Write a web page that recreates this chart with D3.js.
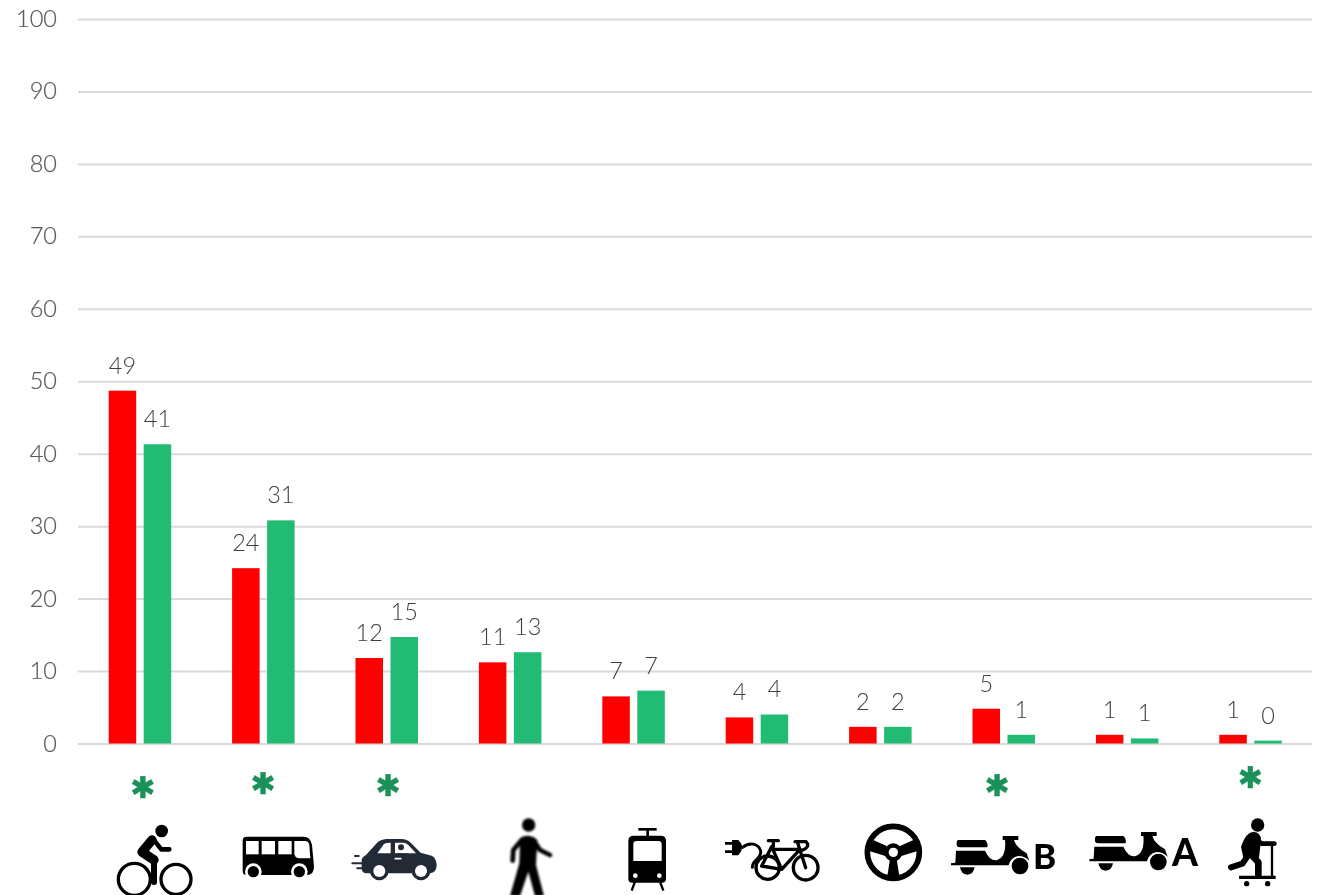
<!DOCTYPE html>
<html><head><meta charset="utf-8">
<script src="https://cdn.jsdelivr.net/npm/d3@7/dist/d3.min.js"></script>
<style>
html,body{margin:0;padding:0;background:#fff;overflow:hidden}
svg{display:block;opacity:0.999}
text{font-family:Lato,"Noto Sans",sans-serif;font-weight:300}
</style></head><body><svg id="c" width="1322" height="895"></svg>
<script>
const categories=["bike","bus","car","walk","tram","ebike","drive","mopedB","mopedA","scooter"];
const seriesA=[48.7,24.2,11.8,11.2,6.5,3.6,2.3,4.8,1.2,1.2];
const seriesB=[41.3,30.8,14.7,12.6,7.3,4.0,2.3,1.2,0.7,0.4];
const labelsA=["49","24","12","11","7","4","2","5","1","1"];
const labelsB=["41","31","15","13","7","4","2","1","1","0"];
const significant=["bike","bus","car","mopedB","scooter"];
const tickValues=[0,10,20,30,40,50,60,70,80,90,100];

const svg=d3.select("#c");
const y=d3.scaleLinear().domain([0,100]).range([743.5,19]);
const x=d3.scaleBand().domain(categories).range([78,1312]);
const sub=d3.scaleBand().domain(["a","b"]).range([-31,31.5]).paddingInner(0.214).paddingOuter(0);

const ax=svg.append("g").attr("transform","translate(78,0)")
 .call(d3.axisLeft(y).tickValues(tickValues).tickSize(-1234).tickPadding(21));
ax.select(".domain").remove();
ax.selectAll(".tick line").attr("stroke","#d9d9d9").attr("stroke-width",2);
ax.selectAll(".tick text").attr("font-size",23.5).attr("fill","#595959").attr("stroke","#595959").attr("stroke-width",0.2).style("font-family","Lato").style("font-weight",300);

const g=svg.append("g");
function bars(vals,key,col,labs){
 const cx=c=>x(c)+x.bandwidth()/2+sub(key);
 g.selectAll(".b"+key).data(categories).join("rect")
  .attr("x",c=>cx(c)).attr("width",sub.bandwidth())
  .attr("y",(c,i)=>y(vals[i])).attr("height",(c,i)=>y(0)-y(vals[i])).attr("fill",col);
 g.selectAll(".l"+key).data(categories).join("text")
  .attr("x",c=>cx(c)+sub.bandwidth()/2).attr("y",(c,i)=>y(vals[i])-25.5)
  .attr("dy","0.36em").attr("text-anchor","middle").attr("font-size",23.5).attr("fill","#404040")
  .text((c,i)=>labs[i]);
}
bars(seriesA,"a","#ff0000",labelsA);
bars(seriesB,"b","#21bb74",labelsB);

const asteriskDx=[3,0,1.5,-6.5,0];
const asteriskCy=[787,783,785,785,777];
svg.append("g").selectAll("text").data(significant).join("text")
 .attr("x",(c,i)=>x(c)+x.bandwidth()/2+asteriskDx[i]).attr("y",(c,i)=>asteriskCy[i]+11)
 .attr("text-anchor","middle").attr("font-size",30)
 .attr("stroke","#1a9158").attr("stroke-width",0.5)
 .style("font-family","DejaVu Sans").style("font-weight",700).attr("fill","#1a9158").text("\u2731");

const defs=svg.append("defs");
defs.append("filter").attr("id","soft").append("feGaussianBlur").attr("stdDeviation",1.4);
defs.append("filter").attr("id","softer").append("feGaussianBlur").attr("stdDeviation",3);
function icon(ox,oy,filter){
 const s=svg.append("g").attr("transform",`translate(${ox},${oy}) scale(${1/3})`);
 if(filter)s.attr("filter",`url(#${filter})`);
 return s;
}
const P=(s,d,o={})=>s.append("path").attr("d",d).attr("fill",o.f||"none").attr("stroke",o.s||"none").attr("stroke-width",o.w||0).attr("stroke-linecap",o.c||"round").attr("stroke-linejoin","round");
const C=(s,cx,cy,r,f,st,w)=>s.append("circle").attr("cx",cx).attr("cy",cy).attr("r",r).attr("fill",f||"none").attr("stroke",st||"none").attr("stroke-width",w||0);

// bike
let s=icon(90,760,"soft");
C(s,215,213,19,"#000");
C(s,133,358,48,"#fff","#000",10);C(s,258,358,45,"#fff","#000",10);
P(s,"M186,240L156,276L192,300",{s:"#000",w:28});
P(s,"M192,300V366",{s:"#000",w:18});
P(s,"M190,238L214,268H238",{s:"#000",w:14});
// bus
s=icon(90,760,"soft");
P(s,"M470,230H640Q662,230 666,255L672,320Q672,345 650,345H470Q458,345 458,332V242Q458,230 470,230Z",{f:"#000"});
[[468,243,38,40],[515,243,40,40],[565,243,40,40]].forEach(r=>s.append("rect").attr("x",r[0]).attr("y",r[1]).attr("width",r[2]).attr("height",r[3]).attr("fill","#fff"));
P(s,"M613,243H645Q655,243 658,255L661,295H630Q613,295 613,280Z",{f:"#fff"});
[490,628].forEach(cx=>{C(s,cx,335,25,"#fff");C(s,cx,335,17,"#000");});
// car
s=icon(90,760,"soft");
const dark="#222b36";
P(s,"M815,325V300Q815,292 828,285L860,250Q870,238 890,237H935Q950,237 962,248L992,278L1025,287Q1038,292 1040,315Q1040,338 1020,340H830Q815,340 815,325Z",{f:dark});
P(s,"M862,280L882,252Q888,248 902,248V280Z",{f:"#fff"});
P(s,"M915,248H940Q948,248 955,255L978,280H915Z",{f:"#fff"});
C(s,933,262,9,dark);P(s,"M918,280H955V284H918Z",{f:dark});P(s,"M916,296H932",{s:"#fff",w:5});
C(s,868,333,28,dark);C(s,868,333,18,"#fff");
C(s,993,333,28,dark);C(s,993,333,18,"#fff");
[[795,288,806],[787,310,822],[802,325,830]].forEach(l=>P(s,`M${l[0]},${l[1]}H${l[2]}`,{s:dark,w:6}));
// walker
s=icon(480,790,"softer");
C(s,146,105,20,"#000");
P(s,"M120,145Q145,128 172,150L168,225L192,318H165L145,245L120,318H90L118,220Z",{f:"#000"});
P(s,"M125,150L100,180L98,212",{s:"#000",w:14});
P(s,"M160,150L180,180L210,195",{s:"#000",w:14});
// tram
s=icon(480,790,"soft");
P(s,"M461,137H542Q558,137 558,153V266Q558,278 546,278H457Q445,278 445,266V153Q445,137 461,137Z",{f:"#000"});
P(s,"M470,153H535Q545,153 545,163V213H460V163Q460,153 470,153Z",{f:"#fff"});
C(s,466,257,7,"#fff");C(s,538,257,7,"#fff");
P(s,"M475,118H530",{s:"#000",w:8,c:"butt"});P(s,"M503,118V145",{s:"#000",w:8,c:"butt"});
P(s,"M465,275L455,302M540,275L550,302",{s:"#000",w:7,c:"butt"});
// e-bike
s=icon(720,830,"soft");
P(s,"M15,40H38M15,65H38",{s:"#000",w:8,c:"butt"});
P(s,"M36,30H55Q78,52 55,76H36Z",{f:"#000"});
P(s,"M68,52C88,35 115,40 122,62C126,88 96,88 97,112",{s:"#000",w:9});
C(s,143,113,35,"none","#000",10);C(s,257,113,37,"none","#000",10);
P(s,"M155,50L125,108L185,118L240,58H155M160,32V50M145,32H175M155,50L185,118M232,35L257,113M225,35H258Q272,50 248,60",{s:"#000",w:10});
// steering wheel
s=icon(860,820,"soft");
C(s,100,97,78,"none","#000",17);
P(s,"M28,55L80,78L76,108L25,92Z",{f:"#000"});
P(s,"M172,55L120,78L124,108L175,92Z",{f:"#000"});
P(s,"M90,118H110L118,168H82Z",{f:"#000"});
C(s,100,97,27,"#000");C(s,100,97,14,"#fff");
// mopeds
function moped(s){
 P(s,"M325,240H405Q415,248 412,262H330Q318,262 320,250Q320,240 325,240Z",{f:"#000"});
 P(s,"M318,272H405Q420,305 442,300Q470,290 465,240H458V228H505V240H492Q498,262 530,280L538,303Q525,288 505,288Q482,292 476,316L303,316V310L316,308Z",{f:"#000"});
 P(s,"M330,322H374Q370,344 352,344Q334,344 330,322Z",{f:"#000"});
 C(s,510,318,25,"#000");
}
s=icon(850,760,"soft");moped(s);
s=icon(850,760,"soft");moped(s.append("g").attr("transform","translate(415,-12)"));
svg.append("text").attr("x",1033).attr("y",869).attr("font-size",35).attr("fill","#000").style("font-family","Lato").style("font-weight",900).text("B");
svg.append("text").attr("x",1172).attr("y",866).attr("font-size",37).attr("fill","#000").style("font-family","Lato").style("font-weight",900).text("A");
// kick scooter
s=icon(1225,815,"soft");
C(s,98,30,20,"#000");
P(s,"M48,95Q62,52 85,50Q108,52 108,75L102,128H55Z",{f:"#000"});
P(s,"M90,68L110,86H148",{s:"#000",w:14});
P(s,"M72,118L52,146L18,157",{s:"#000",w:18});
P(s,"M78,118L100,142V180",{s:"#000",w:20});
P(s,"M141,88V185",{s:"#000",w:7,c:"butt"});
P(s,"M42,187H152",{s:"#000",w:10,c:"butt"});
C(s,65,206,8,"#000");C(s,128,206,8,"#000");
</script></body></html>
